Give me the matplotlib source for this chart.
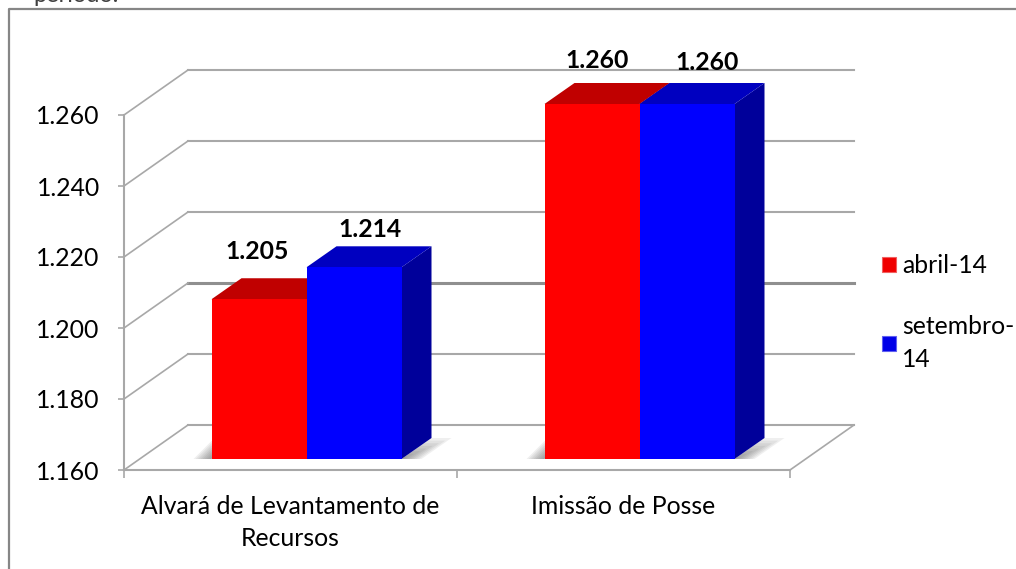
import matplotlib
matplotlib.use("Agg")
import matplotlib.patches
import matplotlib.pyplot as plt
from matplotlib.lines import Line2D
from matplotlib.patches import Patch, Polygon, Rectangle

categories = ["Alvará de Levantamento de\nRecursos", "Imissão de Posse"]
series_names = ["abril-14", "setembro-\n14"]
abril = [1.205, 1.260]
setembro = [1.214, 1.260]
y_ticks = [1.160, 1.180, 1.200, 1.220, 1.240, 1.260]

W, H = 1016, 569
FONT = "Lato"
TEXT_SIZE = 17.8
GRID = "#a8a8a8"

# front plane of the fake 3d box, in pixels
LEFT, RIGHT, TOP, BOTTOM = 124, 790, 115, 470
X_PX = 2 / (RIGHT - LEFT)
Y_PX = (y_ticks[-1] - y_ticks[0]) / (BOTTOM - TOP)
BOX_DX, BOX_DY = 64 * X_PX, 45 * Y_PX
BAR_W = 95 * X_PX
# bars stand in the middle of the floor
BAR_OFF_X, BAR_OFF_Y = 16 * X_PX, 11 * Y_PX
BAR_DX, BAR_DY = 30 * X_PX, 21 * Y_PX


def draw_shadow(ax, x0, x1, y0, y1, slant):
    # soft grey wedge on the floor, built from stacked translucent polygons
    steps = 8
    for i in range(steps):
        f = 1 - i / steps
        pts = [
            (x0, y0),
            (x0 + slant * f, y0 + (y1 - y0) * f),
            (x0 + (x1 - x0) * f + slant * f, y0 + (y1 - y0) * f),
            (x0 + (x1 - x0) * f, y0),
        ]
        ax.add_patch(Polygon(pts, closed=True, fc="#555555", ec="none", alpha=0.09, zorder=2, clip_on=False))


def draw_bar(ax, x, value, front, top, side, z):
    base = y_ticks[0] + BAR_OFF_Y
    v = value + BAR_OFF_Y
    ax.add_patch(Polygon(
        [(x + BAR_W, base), (x + BAR_W + BAR_DX, base + BAR_DY), (x + BAR_W + BAR_DX, v + BAR_DY), (x + BAR_W, v)],
        closed=True, fc=side, ec="none", zorder=z, clip_on=False))
    ax.add_patch(Polygon(
        [(x, v), (x + BAR_DX, v + BAR_DY), (x + BAR_W + BAR_DX, v + BAR_DY), (x + BAR_W, v)],
        closed=True, fc=top, ec="none", zorder=z, clip_on=False))
    ax.add_patch(Rectangle((x, base), BAR_W, value - y_ticks[0], fc=front, ec="none", zorder=z + 0.1, clip_on=False))


fig = plt.figure(figsize=(W / 100, H / 100), dpi=100, facecolor="white")
ax = fig.add_axes([LEFT / W, 1 - BOTTOM / H, (RIGHT - LEFT) / W, (BOTTOM - TOP) / H])
ax.set_xlim(0, 2)
ax.set_ylim(y_ticks[0], y_ticks[-1])
ax.patch.set_visible(False)

for s in ["top", "right"]:
    ax.spines[s].set_visible(False)
for s in ["left", "bottom"]:
    ax.spines[s].set_color(GRID)
    ax.spines[s].set_linewidth(1.5)

ax.set_yticks(y_ticks)
ax.set_yticklabels(["%.3f" % t for t in y_ticks], fontsize=TEXT_SIZE, family=FONT, color="black")
ax.set_xticks([0, 1, 2])
ax.set_xticklabels([])
ax.set_xticks([0.5, 1.5], minor=True)
ax.set_xticklabels(categories, minor=True, fontsize=TEXT_SIZE, family=FONT, linespacing=1.48, color="black")
ax.tick_params(axis="y", length=4, width=1.2, color=GRID, pad=13.5)
ax.tick_params(axis="x", which="major", length=5.5, width=1.2, color=GRID)
ax.tick_params(axis="x", which="minor", length=0, pad=18)

# back wall grid and slanted side lines
for t in y_ticks:
    heavy = t == 1.200
    ax.add_line(Line2D([BOX_DX, 2 + BOX_DX - 0.0], [t + BOX_DY, t + BOX_DY], color="#8f8f8f" if heavy else GRID,
                       lw=2.2 if heavy else 1.5, zorder=1, clip_on=False))
    ax.add_line(Line2D([0, BOX_DX], [t, t + BOX_DY], color=GRID, lw=1.2, zorder=1, clip_on=False))
ax.add_line(Line2D([2, 2 + BOX_DX], [y_ticks[0], y_ticks[0] + BOX_DY], color=GRID, lw=1.2, zorder=1, clip_on=False))

# bars
label_dx = [[-2, 16], [5, 20]]
label_dy = [[48, 38], [43, 42]]
for i in range(len(categories)):
    x_red = i + 0.5 - BAR_W + BAR_OFF_X
    x_blue = i + 0.5 + BAR_OFF_X
    base = y_ticks[0] + BAR_OFF_Y
    draw_shadow(ax, x_red, x_red - 18 * X_PX, base, base + 18 * Y_PX, 18 * X_PX)
    draw_shadow(ax, x_blue + BAR_W, x_blue + BAR_W + 20 * X_PX, base, base + 21 * Y_PX, 30 * X_PX)
    draw_bar(ax, x_red, abril[i], "#ff0000", "#c00000", "#c00000", 3)
    draw_bar(ax, x_blue, setembro[i], "#0000ff", "#0000c0", "#00009a", 4)
    for x, v, dx, dy in zip([x_red, x_blue], [abril[i], setembro[i]], label_dx[i], label_dy[i]):
        ax.text(x + BAR_W / 2 + dx * X_PX, v + BAR_OFF_Y + dy * Y_PX, ("%.3f" % v), ha="center", va="center",
                fontsize=TEXT_SIZE, fontweight="bold", family=FONT, color="black", zorder=6, clip_on=False)

handles = [
    Patch(fc="#f00000", ec="#f06060", lw=0.8, label=series_names[0]),
    Patch(fc="#0000e8", ec="#6060f0", lw=0.8, label=series_names[1]),
]
leg = fig.legend(
    handles=handles, loc="upper left", bbox_to_anchor=(880 / W, 1 - 252 / H), frameon=False,
    prop={"family": FONT, "size": TEXT_SIZE}, handlelength=0.55, handleheight=0.55, handletextpad=0.25,
    labelspacing=1.5, borderpad=0.1, borderaxespad=0, labelcolor="black",
)
for t in leg.get_texts():
    t.set_linespacing(1.55)

# outer frame runs off the right and bottom of the cropped image
fig.add_artist(Line2D([9 / W, 9 / W, 1], [0, 1 - 9 / H, 1 - 9 / H], transform=fig.transFigure, color="#868686", lw=1.6))
fig.text(33 / W, 1 - 2 / H, "período.", fontsize=TEXT_SIZE - 0.8, family=FONT, color="#404040", va="baseline", ha="left")

fig.savefig("out.png", dpi=100)
